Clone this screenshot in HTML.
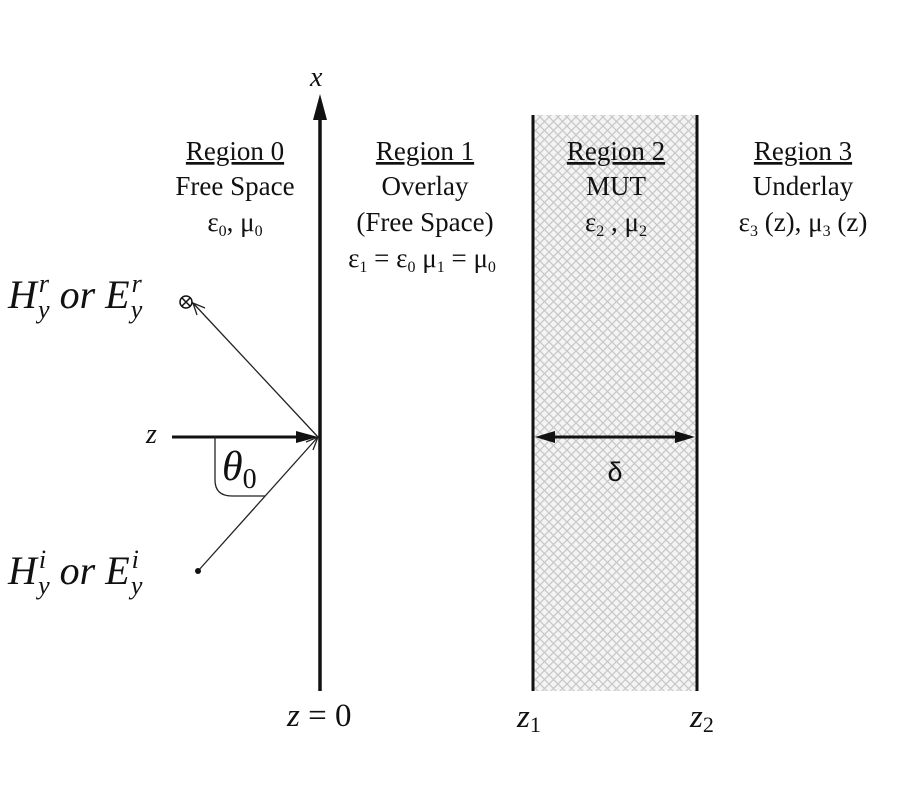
<!DOCTYPE html>
<html><head><meta charset="utf-8"><style>
html,body{margin:0;padding:0;background:#fff;}
svg{display:block;}
.t{font-family:"Liberation Serif",serif;font-size:27px;fill:#111;text-anchor:middle;}
.m{font-family:"Liberation Serif",serif;font-style:italic;fill:#111;}
</style></head><body>
<svg width="900" height="800" viewBox="0 0 900 800" xmlns="http://www.w3.org/2000/svg">
<defs>
<pattern id="h" width="9" height="9" patternUnits="userSpaceOnUse">
<rect width="9" height="9" fill="#f4f4f4"/>
<path d="M0,0 L9,9 M9,0 L0,9" stroke="#c8c8c8" stroke-width="1.3"/>
</pattern>
</defs>
<rect x="533" y="115" width="164" height="576" fill="url(#h)"/>
<line x1="533" y1="115" x2="533" y2="691" stroke="#111" stroke-width="3"/>
<line x1="697" y1="115" x2="697" y2="691" stroke="#111" stroke-width="3"/>
<line x1="320" y1="120" x2="320" y2="691" stroke="#111" stroke-width="3.5"/>
<polygon points="320,94 313,120 327,120" fill="#111"/>
<text class="m" x="310" y="86" font-size="28">x</text>
<line x1="172" y1="437" x2="300" y2="437" stroke="#111" stroke-width="3"/>
<polygon points="318,437 296,431 296,443" fill="#111"/>
<text class="m" x="146" y="443" font-size="28">z</text>
<line x1="198" y1="571" x2="318" y2="437" stroke="#222" stroke-width="1.3"/>
<polyline points="306,442 318,437 313,450" fill="none" stroke="#222" stroke-width="1.3"/>
<line x1="318" y1="437" x2="193" y2="303" stroke="#222" stroke-width="1.3"/>
<polyline points="197,315 193,303 205,308" fill="none" stroke="#222" stroke-width="1.3"/>
<circle cx="198" cy="571" r="3" fill="#111"/>
<circle cx="186" cy="302" r="6" fill="none" stroke="#111" stroke-width="1.5"/>
<path d="M182,298 L190,306 M190,298 L182,306" stroke="#111" stroke-width="1.5"/>
<path d="M215,437 L215,480 Q215,496 232,496 L265,496" fill="none" stroke="#222" stroke-width="1.3"/>
<text class="m" x="222" y="480" font-size="42">θ<tspan font-style="normal" font-size="28" dy="8">0</tspan></text>
<text class="m" x="8" y="308" font-size="40">H<tspan font-size="26" dx="2" dy="-16">r</tspan><tspan font-size="26" dx="-11" dy="26">y</tspan><tspan dy="-10" dx="10">or E</tspan><tspan font-size="26" dx="2" dy="-16">r</tspan><tspan font-size="26" dx="-11" dy="26">y</tspan></text>
<text class="m" x="8" y="584" font-size="40">H<tspan font-size="26" dx="2" dy="-16">i</tspan><tspan font-size="26" dx="-8" dy="26">y</tspan><tspan dy="-10" dx="10">or E</tspan><tspan font-size="26" dx="2" dy="-16">i</tspan><tspan font-size="26" dx="-8" dy="26">y</tspan></text>
<text class="t" x="235" y="160" text-decoration="underline">Region 0</text>
<text class="t" x="235" y="195">Free Space</text>
<text class="t" x="235" y="231" font-size="22">ε<tspan font-size="16" dy="5">0</tspan><tspan dy="-5">, μ</tspan><tspan font-size="16" dy="5">0</tspan></text>
<text class="t" x="425" y="160" text-decoration="underline">Region 1</text>
<text class="t" x="425" y="195">Overlay</text>
<text class="t" x="425" y="231">(Free Space)</text>
<text class="t" x="422" y="267" font-size="23">ε<tspan font-size="16" dy="5">1</tspan><tspan dy="-5"> = ε</tspan><tspan font-size="16" dy="5">0</tspan><tspan dy="-5">   μ</tspan><tspan font-size="16" dy="5">1</tspan><tspan dy="-5"> = μ</tspan><tspan font-size="16" dy="5">0</tspan></text>
<text class="t" x="616" y="160" text-decoration="underline">Region 2</text>
<text class="t" x="616" y="195">MUT</text>
<text class="t" x="616" y="231" font-size="22">ε<tspan font-size="16" dy="5">2</tspan><tspan dy="-5"> , μ</tspan><tspan font-size="16" dy="5">2</tspan></text>
<text class="t" x="803" y="160" text-decoration="underline">Region 3</text>
<text class="t" x="803" y="195">Underlay</text>
<text class="t" x="803" y="231" font-size="24">ε<tspan font-size="16" dy="5">3</tspan><tspan dy="-5"> (z), μ</tspan><tspan font-size="16" dy="5">3</tspan><tspan dy="-5"> (z)</tspan></text>
<line x1="550" y1="437" x2="680" y2="437" stroke="#111" stroke-width="3"/>
<polygon points="535,437 555,431 555,443" fill="#111"/>
<polygon points="695,437 675,431 675,443" fill="#111"/>
<text class="t" x="615" y="481" style="font-family:'Liberation Sans',sans-serif" font-size="32">δ</text>
<text class="m" x="287" y="726" font-size="33">z <tspan font-style="normal">= 0</tspan></text>
<text class="m" x="517" y="727" font-size="33">z<tspan font-style="normal" font-size="22" dy="5">1</tspan></text>
<text class="m" x="690" y="727" font-size="33">z<tspan font-style="normal" font-size="22" dy="5">2</tspan></text>
</svg>
</body></html>
